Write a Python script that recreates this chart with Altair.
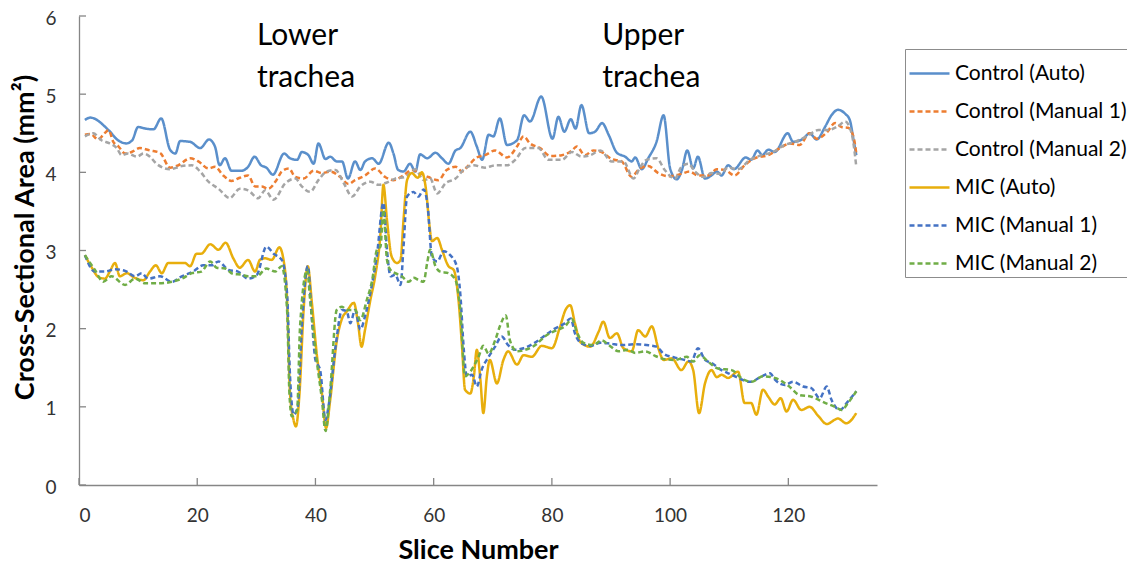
import altair as alt
import pandas as pd

SERIES = ["Control (Auto)", "Control (Manual 1)", "Control (Manual 2)",
          "MIC (Auto)", "MIC (Manual 1)", "MIC (Manual 2)"]
COLORS = ["#5A8FCB", "#ED7D31", "#A5A5A5", "#E8AE0C", "#4472C4", "#70AD47"]
DASHES = [[1, 0], [5, 3], [5, 3], [1, 0], [5, 3], [5, 3]]

X_TICKS = [0, 20, 40, 60, 80, 100, 120]
Y_TICKS = [0, 1, 2, 3, 4, 5, 6]

# Control (Auto)
ca_x = [1, 1.9, 5, 6.6, 8, 9, 10, 11.2, 12.6, 13.9, 15.4, 16.3, 17.1, 18.8, 20.5, 22, 23, 23.8, 24.7, 25.8,
        27.5, 28.6, 29.7, 30.8, 31.7, 32.8, 34.7, 35.7, 36.9, 37.7, 38.8, 39.7, 40.5, 41.7, 42.5, 43.6, 44.5,
        45.5, 46.7, 47.6, 48.4, 49.6, 50.7, 52.4, 53.2, 54, 54.9, 56, 56.9, 57.7, 58.9, 60.3, 61.4, 62.5, 63.7,
        64.5, 66.2, 67.3, 68.2, 69.3, 70.1, 71.2, 72.4, 74.1, 75.3, 76.3, 78.2, 80.1, 81.1, 82.1, 83.2, 84, 85,
        86.3, 87.3, 88.5, 89.6, 91, 92.4, 93.5, 94.1, 95.2, 96.3, 97.7, 98.9, 100, 101.1, 102, 102.9, 103.9,
        104.7, 105.9, 107, 107.9, 108.7, 109.8, 110.8, 112.8, 113.7, 114.8, 115.6, 116.6, 117.7, 119.9, 120.8,
        122.5, 123.6, 124.8, 126.2, 127.3, 128.4, 129.6, 130.4, 131, 131.5]
ca_y = [4.67, 4.70, 4.54, 4.41, 4.37, 4.41, 4.58, 4.56, 4.55, 4.69, 4.29, 4.24, 4.40, 4.39, 4.31, 4.42, 4.33,
        4.09, 4.18, 4.02, 4.02, 4.07, 4.20, 4.09, 4.06, 3.97, 4.24, 4.18, 4.16, 4.26, 4.22, 4.11, 4.37, 4.17,
        4.20, 4.14, 4.14, 3.92, 4.14, 4.03, 4.14, 4.18, 4.11, 4.38, 4.24, 4.03, 4.01, 4.11, 4.01, 4.23, 4.18,
        4.25, 4.18, 4.11, 4.28, 4.31, 4.52, 4.33, 4.16, 4.48, 4.46, 4.69, 4.35, 4.41, 4.73, 4.65, 4.97, 4.43,
        4.71, 4.52, 4.68, 4.56, 4.86, 4.50, 4.52, 4.63, 4.48, 4.25, 4.20, 4.14, 4.19, 4.04, 4.18, 4.39, 4.73,
        4.05, 3.91, 4.03, 4.28, 4.05, 4.20, 3.92, 3.96, 4.01, 3.96, 4.09, 4.04, 4.19, 4.16, 4.28, 4.22, 4.29,
        4.26, 4.50, 4.39, 4.43, 4.50, 4.42, 4.58, 4.73, 4.80, 4.75, 4.67, 4.43, 4.22]

# Control (Manual 1)
cm1_x = [1, 1.9, 3.3, 4.1, 5, 5.8, 6.7, 7.8, 8.9, 10.3, 12, 13.7, 15.4, 16.8, 18.8, 20.2, 21.9, 23, 24.4,
         25.8, 27.2, 28.6, 29.8, 30.9, 32, 33.4, 34.3, 35.5, 36.6, 38, 39.7, 41.1, 42.5, 44.2, 45.6, 46.7,
         48.4, 50.1, 51.8, 53.2, 54.9, 56.3, 57.7, 59.1, 60.8, 62.2, 63.7, 64.8, 65.9, 67.3, 68.7, 70.4,
         72.4, 74.1, 75.2, 76.3, 78, 79.7, 81.7, 83.4, 84.2, 85.6, 87, 88.4, 90.1, 91.8, 93.5, 94.6, 96.3,
         98, 99.7, 101.9, 103.3, 104.7, 106.4, 107.9, 109.3, 110.9, 112.6, 114.3, 116.6, 118.6, 120.3,
         121.9, 123.6, 124.8, 126.5, 127.9, 129, 130.1, 131, 131.5]
cm1_y = [4.48, 4.49, 4.42, 4.48, 4.54, 4.39, 4.33, 4.24, 4.26, 4.31, 4.28, 4.25, 4.06, 4.09, 4.18, 4.14,
         4.05, 4.07, 3.96, 3.89, 3.93, 3.96, 3.82, 3.82, 3.79, 3.90, 4.01, 4.05, 3.94, 3.92, 4.02, 3.99,
         4.01, 3.94, 3.85, 3.90, 3.96, 4.05, 3.94, 3.90, 3.96, 4.03, 3.99, 3.94, 3.90, 4.03, 4.07, 4.01,
         4.09, 4.19, 4.22, 4.28, 4.19, 4.33, 4.46, 4.37, 4.31, 4.21, 4.22, 4.28, 4.33, 4.22, 4.28, 4.26,
         4.17, 4.14, 3.94, 4.03, 4.08, 3.99, 3.95, 3.98, 4.01, 3.96, 3.96, 4.04, 4.03, 3.96, 4.09, 4.18,
         4.22, 4.31, 4.37, 4.35, 4.50, 4.43, 4.51, 4.63, 4.58, 4.57, 4.46, 4.24]

# Control (Manual 2)
cm2_x = [1, 2.4, 3.8, 5.2, 6.4, 7.2, 8.3, 9.8, 10.9, 12, 13.1, 15.4, 17.4, 19.1, 20.5, 21.9, 23.6, 25.5,
         27.2, 28.6, 30.3, 31.5, 32.9, 34.9, 36.6, 37.7, 39.1, 40.5, 41.9, 43.4, 44.8, 46.2, 47.6, 49.3,
         50.7, 52.1, 53.5, 55.2, 56.9, 58.3, 59.4, 60.6, 62, 63.7, 65.3, 66.8, 68.7, 70.4, 72.4, 73.8,
         75.5, 77.7, 79.4, 81.7, 83.4, 85, 86.5, 88.2, 90.1, 92.1, 93.8, 94.9, 96, 97.7, 99.1, 100.8,
         101.9, 103.1, 104.2, 105.6, 107, 108.4, 109.8, 111.5, 113.5, 115.5, 117.4, 119.4, 121.1, 123.1,
         125.1, 126.7, 128.4, 129.6, 130.7, 131.5]
cm2_y = [4.46, 4.50, 4.41, 4.37, 4.31, 4.22, 4.24, 4.20, 4.24, 4.20, 4.11, 4.04, 4.08, 4.09, 4.01, 3.88,
         3.79, 3.67, 3.79, 3.77, 3.67, 3.77, 3.65, 3.86, 3.92, 3.82, 3.75, 3.90, 4.01, 4.03, 3.86, 3.69,
         3.82, 3.88, 3.84, 3.87, 3.92, 3.94, 4.04, 3.90, 3.92, 3.73, 3.86, 3.92, 4.05, 4.09, 4.06, 4.09,
         4.09, 4.16, 4.31, 4.31, 4.16, 4.16, 4.26, 4.20, 4.22, 4.28, 4.14, 4.14, 3.92, 4.06, 4.16, 4.18,
         4.03, 3.92, 4.07, 4.11, 4.01, 3.94, 3.99, 3.98, 4.06, 4.04, 4.16, 4.22, 4.26, 4.35, 4.39, 4.46,
         4.54, 4.54, 4.59, 4.65, 4.50, 4.07]

# MIC (Auto)
ma_x = [1, 2.1, 3.3, 4.4, 5.2, 6.1, 6.9, 8.1, 9.2, 10.9, 12, 13, 14, 15.1, 16.5, 17.9, 18.8, 19.9, 20.7,
        22.2, 23.6, 24.8, 26.1, 27.2, 28.6, 29.8, 30.6, 31.5, 32.6, 33.9, 34.6, 35.2, 35.7, 36.3, 36.7,
        37.3, 38, 38.7, 39.4, 40.2, 41.1, 41.8, 42.5, 43.6, 44.5, 45.3, 46.5, 47.2, 47.8, 48.4, 49.3,
        50.1, 51, 51.5, 52.1, 52.9, 53.8, 54.4, 54.9, 55.5, 56.3, 57.3, 58, 58.7, 59.3, 59.7, 60.6, 61.4,
        62.5, 63.4, 64.2, 64.8, 65.3, 66.2, 66.8, 67.3, 67.9, 68.4, 69, 69.5, 70.7, 71.8, 72.6, 74.1,
        75.2, 76.6, 78.3, 80, 81.4, 82.3, 83.1, 83.9, 84.8, 86.5, 87.9, 88.7, 89.8, 91, 92.1, 93.5, 94.6,
        95.8, 96.9, 98, 98.9, 100.3, 101.9, 103.1, 103.9, 104.9, 105.9, 107, 107.9, 108.7, 109.8, 111.5,
        112.6, 113.7, 114.6, 115.7, 116.6, 117.7, 118.7, 119.7, 120.8, 122.2, 123.6, 125.1, 126.5, 128.4,
        129.8, 131.5]
ma_y = [2.94, 2.79, 2.66, 2.64, 2.73, 2.84, 2.67, 2.71, 2.66, 2.62, 2.73, 2.81, 2.71, 2.84, 2.84, 2.84,
        2.80, 2.96, 2.96, 3.08, 3.01, 3.10, 2.90, 2.78, 2.88, 2.73, 2.88, 2.90, 2.88, 3.04, 2.88, 2.37,
        1.17, 0.83, 0.75, 1.17, 2.24, 2.80, 2.33, 1.69, 1.17, 0.73, 1.09, 1.84, 2.13, 2.22, 2.33, 2.07,
        1.77, 1.99, 2.37, 2.67, 3.22, 3.84, 3.39, 2.92, 2.84, 2.88, 3.39, 3.90, 3.99, 3.93, 4.00, 3.78,
        3.31, 3.12, 3.16, 3.01, 2.80, 2.75, 2.37, 1.77, 1.22, 1.17, 1.39, 1.73, 1.35, 0.92, 1.39, 1.60,
        1.30, 1.60, 1.71, 1.54, 1.66, 1.64, 1.78, 1.75, 2.03, 2.24, 2.30, 2.07, 1.83, 1.77, 1.96, 2.09,
        1.88, 1.94, 1.75, 1.71, 1.98, 1.90, 2.03, 1.75, 1.60, 1.62, 1.47, 1.58, 1.47, 0.92, 1.30, 1.47,
        1.38, 1.41, 1.37, 1.45, 1.05, 1.05, 0.90, 1.22, 1.13, 1.03, 1.11, 0.94, 1.09, 0.96, 1.00, 0.88,
        0.78, 0.85, 0.79, 0.92]

# MIC (Manual 1)
mm1_x = [1, 2.7, 4.4, 6.1, 7.8, 9.5, 10.6, 11.7, 13.7, 15.7, 17.4, 19.3, 21, 22.4, 23.6, 25.3, 26.9, 28.6,
         30.1, 31.7, 32.9, 34.3, 35.2, 35.7, 36.3, 37, 37.7, 38.7, 39.4, 40, 40.8, 41.7, 42.2, 43.4, 44.5,
         45.3, 45.9, 46.7, 47.6, 48.4, 49.6, 50.4, 51.5, 52.1, 52.7, 53.5, 54.4, 54.9, 55.5, 56.6, 57.4,
         58.3, 59, 59.7, 60.6, 61.7, 62.8, 63.9, 64.5, 65.1, 65.6, 66.5, 67.3, 68.1, 69.3, 70.4, 71.5,
         72.6, 73.8, 75.2, 76.9, 78.6, 80.5, 82.2, 83.2, 83.9, 85, 86.5, 88.2, 89.8, 91.8, 94.1, 96, 97.7,
         98.9, 100.8, 102.5, 103.6, 104.7, 105.9, 107, 108.7, 110.4, 112.1, 113.5, 115.5, 116.9, 117.7,
         119.4, 120.8, 122.5, 123.9, 125.3, 126.5, 127.3, 128.7, 130.1, 131.5]
mm1_y = [2.94, 2.73, 2.73, 2.76, 2.74, 2.67, 2.71, 2.64, 2.67, 2.60, 2.67, 2.73, 2.81, 2.81, 2.86, 2.75,
         2.73, 2.64, 2.69, 3.05, 2.96, 2.88, 2.45, 1.39, 0.90, 1.00, 2.03, 2.80, 2.11, 1.60, 1.47, 0.83,
         1.00, 1.77, 2.24, 2.22, 2.07, 2.24, 1.99, 2.16, 2.58, 2.94, 3.61, 3.01, 2.67, 2.69, 2.56, 3.05,
         3.69, 3.75, 3.69, 3.78, 3.56, 2.92, 2.86, 2.99, 2.94, 2.80, 2.45, 1.73, 1.39, 1.41, 1.26, 1.47,
         1.64, 1.77, 1.90, 1.79, 1.73, 1.75, 1.81, 1.90, 2.00, 2.07, 2.13, 1.94, 1.81, 1.78, 1.82, 1.81,
         1.79, 1.80, 1.79, 1.77, 1.68, 1.63, 1.60, 1.58, 1.75, 1.60, 1.56, 1.47, 1.41, 1.35, 1.32, 1.39,
         1.43, 1.35, 1.28, 1.32, 1.26, 1.24, 1.11, 1.26, 1.09, 0.96, 1.07, 1.20]

# MIC (Manual 2)
mm2_x = [1, 2.7, 4.1, 5.5, 7.8, 9.5, 11.2, 13.4, 15.7, 17.4, 19.1, 20.7, 22.2, 23.3, 24.7, 26.1, 27.5,
         28.6, 30.1, 31.7, 33.2, 34.3, 35.2, 35.6, 36, 36.9, 37.4, 38.6, 39.1, 40.2, 41.1, 41.7, 42.5,
         43.6, 44.5, 45.3, 46.7, 47.6, 48.7, 49.6, 50.4, 51, 51.5, 52.1, 52.7, 53.5, 54.6, 55.8, 56.6,
         57.5, 58.3, 58.9, 59.4, 60.3, 61.1, 62.5, 63.7, 64.5, 65.3, 66.2, 67, 67.6, 68.4, 69.3, 70.4,
         71.2, 72.2, 72.9, 74.1, 75.5, 77.2, 78.8, 80.8, 82.2, 83.4, 84.2, 85.3, 87, 88.4, 89.8, 91.3,
         92.9, 94.1, 95.8, 97.5, 99.1, 100.8, 102.8, 103.9, 105, 106.4, 108.1, 110.4, 112.4, 113.8,
         115.7, 117.7, 120, 121.9, 123.9, 126.2, 127.9, 129, 130.1, 131.5]
mm2_y = [2.94, 2.75, 2.60, 2.67, 2.56, 2.64, 2.58, 2.58, 2.60, 2.64, 2.71, 2.73, 2.86, 2.78, 2.77, 2.70,
         2.69, 2.67, 2.67, 2.77, 2.73, 2.80, 2.24, 1.17, 0.88, 0.96, 2.03, 2.75, 2.37, 1.60, 1.09, 0.69,
         1.22, 2.24, 2.28, 2.24, 2.24, 2.11, 2.37, 2.62, 3.01, 3.05, 3.52, 2.88, 2.75, 2.71, 2.67, 2.60,
         2.65, 2.62, 2.60, 2.84, 3.01, 2.80, 2.73, 2.71, 2.62, 2.24, 1.39, 1.45, 1.55, 1.64, 1.78, 1.68,
         1.85, 2.03, 2.17, 1.85, 1.71, 1.73, 1.79, 1.90, 1.98, 2.03, 2.12, 1.96, 1.82, 1.79, 1.85, 1.78,
         1.71, 1.73, 1.69, 1.71, 1.65, 1.61, 1.60, 1.64, 1.58, 1.66, 1.58, 1.49, 1.47, 1.35, 1.32, 1.39,
         1.37, 1.27, 1.15, 1.13, 1.05, 1.00, 0.96, 1.05, 1.20]

ANN_TEXT = ["Lower", "trachea", "Upper", "trachea"]
ANN_X = [30.1, 30.1, 88.5, 88.5]
ANN_Y = [5.74, 5.21, 5.74, 5.21]

FONT = "Lato"
X_TITLE = "Slice Number"
Y_TITLE = "Cross-Sectional Area (mm²)"

frames = []
for name, xs, ys in zip(SERIES, [ca_x, cm1_x, cm2_x, ma_x, mm1_x, mm2_x],
                        [ca_y, cm1_y, cm2_y, ma_y, mm1_y, mm2_y]):
    f = pd.DataFrame({"slice": xs, "area": ys})
    f["series"] = name
    frames.append(f)
df = pd.concat(frames, ignore_index=True)

legend = alt.Legend(title=None, orient="none", legendX=826, legendY=33,
                    symbolType="stroke", symbolSize=1600, symbolStrokeWidth=2.5,
                    labelFont=FONT, labelFontSize=21, labelColor="black", labelOffset=4,
                    labelLimit=400, rowPadding=6, strokeColor="#8c8c8c", fillColor="white",
                    padding=3, cornerRadius=0)

x_enc = alt.X("slice:Q", title=X_TITLE,
              scale=alt.Scale(domain=[0, 135], nice=False, zero=False),
              axis=alt.Axis(values=X_TICKS, format="d", labelPadding=21, titlePadding=12,
                            titleFontSize=27))
y_enc = alt.Y("area:Q", title=Y_TITLE,
              scale=alt.Scale(domain=[0, 6], nice=False),
              axis=alt.Axis(values=Y_TICKS, format="d", labelPadding=23, labelOffset=2,
                            titlePadding=5, titleFontSize=27, titleY=221))

base = alt.Chart(df).mark_line(strokeWidth=2.5, interpolate="monotone").encode(
    x=x_enc, y=y_enc,
    color=alt.Color("series:N", scale=alt.Scale(domain=SERIES, range=COLORS), legend=legend),
    strokeDash=alt.StrokeDash("series:N", scale=alt.Scale(domain=SERIES, range=DASHES), legend=legend),
)
lines = [base.transform_filter(alt.datum.series == s) for s in SERIES]

ytick_df = pd.DataFrame({"area": Y_TICKS})
xtick_df = pd.DataFrame({"slice": X_TICKS})
yticks = alt.Chart(ytick_df).mark_rule(color="#868686", strokeWidth=1.3).encode(
    y=alt.Y("area:Q", title=Y_TITLE), x=alt.value(0), x2=alt.value(7))
xticks = alt.Chart(xtick_df).mark_rule(color="#868686", strokeWidth=1.3).encode(
    x=alt.X("slice:Q", title=X_TITLE), y=alt.value(469), y2=alt.value(462))

ann_df = pd.DataFrame({"label": ANN_TEXT, "slice": ANN_X, "area": ANN_Y})
ann = alt.Chart(ann_df).mark_text(align="left", baseline="middle", font=FONT,
                                  fontSize=30, color="black").encode(
    x=alt.X("slice:Q", title=X_TITLE), y=alt.Y("area:Q", title=Y_TITLE), text="label:N")

chart = alt.layer(*lines, yticks, xticks, ann).properties(
    width=798, height=469,
    autosize=alt.AutoSizeParams(type="none"),
    padding={"left": 71, "top": 8, "right": 250, "bottom": 78},
).configure_view(stroke=None).configure_axis(
    grid=False, ticks=False, tickSize=0,
    domainColor="#868686", domainWidth=1.3,
    labelFont=FONT, labelFontSize=19, labelColor="#333333",
    titleFont=FONT, titleFontWeight="bold", titleColor="black",
)

chart.save("out.html", embed_options={"renderer": "svg", "actions": False})
